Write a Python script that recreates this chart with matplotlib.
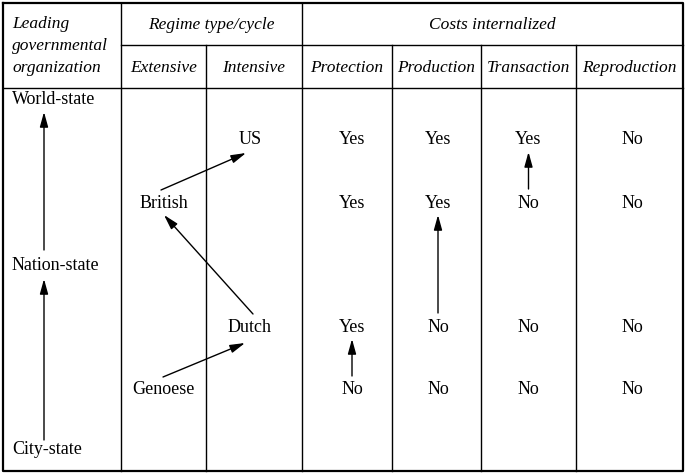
import matplotlib

matplotlib.use("Agg")

import matplotlib.pyplot as plt

# table content
org_levels = ["World-state", "Nation-state", "City-state"]
regime_types = ["Extensive", "Intensive"]
regimes = ["US", "British", "Dutch", "Genoese"]
regime_type_of = ["Intensive", "Extensive", "Intensive", "Extensive"]
cost_columns = ["Protection", "Production", "Transaction", "Reproduction"]
costs = {
    "Protection": ["Yes", "Yes", "Yes", "No"],
    "Production": ["Yes", "Yes", "No", "No"],
    "Transaction": ["Yes", "No", "No", "No"],
    "Reproduction": ["No", "No", "No", "No"],
}
# cost arrows: column, from row, to row
cost_moves = [("Protection", 3, 2), ("Production", 2, 1), ("Transaction", 1, 0)]

plt.rcParams["font.family"] = ["Liberation Serif", "DejaVu Serif"]
fs_head = 12.5
fs = 13

fig = plt.figure(figsize=(6.85, 4.74), dpi=100)
ax = fig.add_axes([0, 0, 1, 1])
ax.set_xlim(0, 685)
ax.set_ylim(474, 0)
ax.axis("off")

# layout (pixels)
left, right, top, bottom = 3, 683, 3, 471
y_h1, y_h2 = 45, 88
col_x = [121, 206, 302, 392, 481, 576]
row_y = [140, 203, 327, 390]
org_y = [99, 266, 450]
value_shift = [5, 1.5, 0, 3]
lw = 1.0

ax.plot([left, right, right, left, left], [top, top, bottom, bottom, top],
        color="black", lw=1.6)
ax.plot([col_x[0], right], [y_h1, y_h1], color="black", lw=lw)
ax.plot([left, right], [y_h2, y_h2], color="black", lw=lw)
for i, x in enumerate(col_x):
    y0 = top if i in (0, 2) else y_h1
    ax.plot([x, x], [y0, bottom], color="black", lw=lw)

# headers
for i, t in enumerate(["Leading", "governmental", "organization"]):
    ax.text(12, 24 + i * 22, t, style="italic", fontsize=fs_head,
            ha="left", va="center")
ax.text((col_x[0] + col_x[2]) / 2, 25, "Regime type/cycle", style="italic",
        fontsize=fs_head, ha="center", va="center")
ax.text((col_x[2] + right) / 2, 25, "Costs internalized", style="italic",
        fontsize=fs_head, ha="center", va="center")

type_x = {}
bounds = [col_x[0], col_x[1], col_x[2]]
for i, t in enumerate(regime_types):
    cx = (bounds[i] + bounds[i + 1]) / 2
    type_x[t] = cx
    ax.text(cx, 68, t, style="italic", fontsize=fs_head, ha="center", va="center")

cost_x = {}
bounds = col_x[2:] + [right]
for i, c in enumerate(cost_columns):
    cx = (bounds[i] + bounds[i + 1]) / 2
    cost_x[c] = cx
    ax.text(cx, 68, c, style="italic", fontsize=fs_head, ha="center", va="center")

# organization levels
for t, y in zip(org_levels, org_y):
    ax.text(12, y, t, fontsize=fs, ha="left", va="center")
arrow_kw = dict(arrowstyle="-|>,head_length=0.9,head_width=0.25",
                color="black", lw=1.0, shrinkA=0, shrinkB=0)
ax.annotate("", xy=(44, 112), xytext=(44, 250), arrowprops=arrow_kw)
ax.annotate("", xy=(44, 279), xytext=(44, 440), arrowprops=arrow_kw)

# regimes
for name, t, y in zip(regimes, regime_type_of, row_y):
    x = type_x[t] + (-4 if t == "Intensive" else 0)
    ax.text(x, y, name, fontsize=fs, ha="center", va="center")

ax.annotate("", xy=(245, 343), xytext=(163, 377), arrowprops=arrow_kw)
ax.annotate("", xy=(164, 215), xytext=(253, 314), arrowprops=arrow_kw)
ax.annotate("", xy=(246, 153), xytext=(161, 190), arrowprops=arrow_kw)

# costs
for c, dx in zip(cost_columns, value_shift):
    for v, y in zip(costs[c], row_y):
        ax.text(cost_x[c] + dx, y, v, fontsize=fs, ha="center", va="center")

for c, r0, r1 in cost_moves:
    x = cost_x[c] + value_shift[cost_columns.index(c)]
    y0 = row_y[r0] - 14
    y1 = row_y[r1] + 12
    ax.annotate("", xy=(x, y1), xytext=(x, y0), arrowprops=arrow_kw)

plt.savefig("out.png", dpi=100)
